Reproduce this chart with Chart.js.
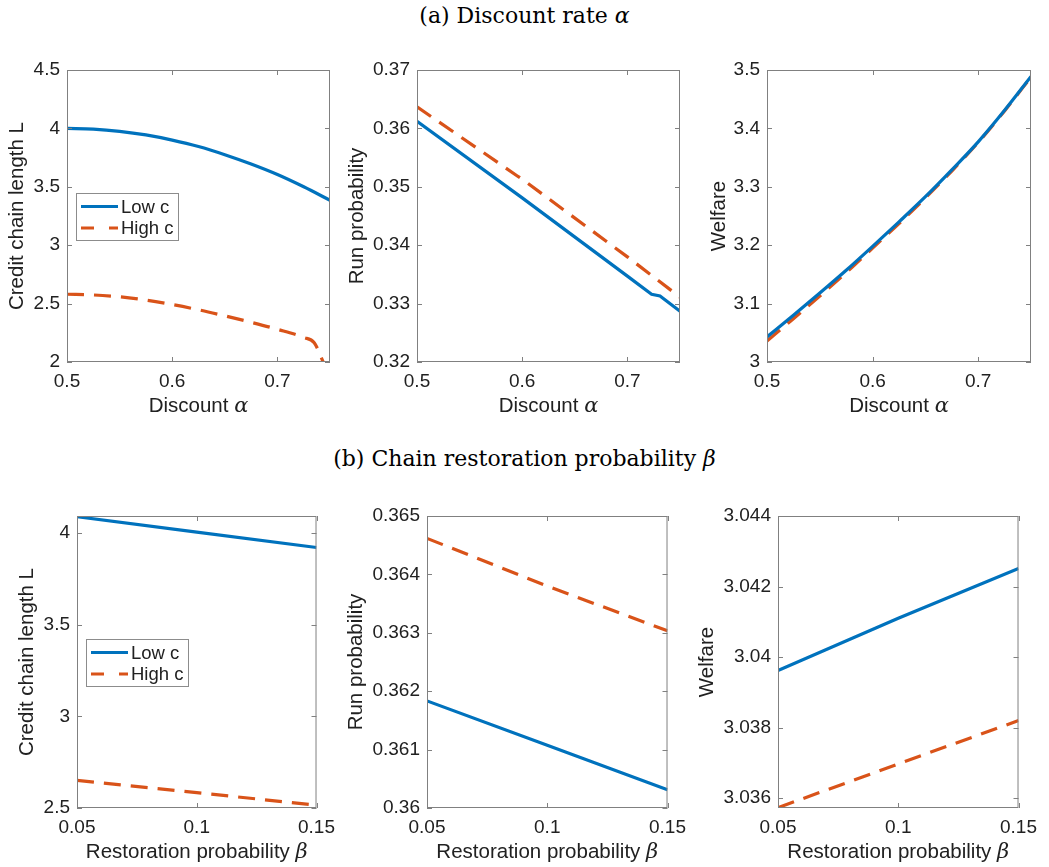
<!DOCTYPE html>
<html>
<head>
<meta charset="utf-8">
<script src="https://cdn.jsdelivr.net/npm/chart.js@4.4.1/dist/chart.umd.min.js"></script>
<style>
  body { margin: 0; background: #fff; width: 1049px; height: 867px; overflow: hidden; position: relative; }
  canvas { position: absolute; }
  .ptitle { position: absolute; left: 0; width: 1049px; text-align: center; font-family: "DejaVu Serif"; font-size: 22px; line-height: 22px; color: #000; }
</style>
</head>
<body>
<div class="ptitle" style="top:5px">(a) Discount rate <i>α</i></div>
<div class="ptitle" style="top:448px">(b) Chain restoration probability <i>β</i></div>
<canvas id="c1"></canvas>
<canvas id="c2"></canvas>
<canvas id="c3"></canvas>
<canvas id="c4"></canvas>
<canvas id="c5"></canvas>
<canvas id="c6"></canvas>
<script>
const seriesNames = ['Low c', 'High c'];

// (a) discount rate alpha
const alphaGrid = [0.5, 0.525, 0.55, 0.575, 0.6, 0.625, 0.65, 0.675, 0.7, 0.725, 0.75];
const lengthLowA = [4.00, 3.994, 3.975, 3.944, 3.90, 3.845, 3.775, 3.695, 3.605, 3.50, 3.385];
const alphaLenHigh = [0.5, 0.525, 0.55, 0.575, 0.6, 0.625, 0.65, 0.675, 0.7, 0.725, 0.735, 0.7435, 0.75];
const lengthHighA = [2.58, 2.574, 2.558, 2.53, 2.492, 2.447, 2.395, 2.34, 2.28, 2.21, 2.165, 2.0, 1.86];
const alphaRunLow = [0.5, 0.6, 0.7, 0.723, 0.731, 0.75];
const runLowA = [0.3612, 0.3481, 0.3347, 0.3316, 0.3313, 0.3287];
const alphaRunHigh = [0.5, 0.595, 0.6, 0.7, 0.75];
const runHighA = [0.3637, 0.3519, 0.3513, 0.3380, 0.3311];
const welfareLowA = [3.043, 3.080, 3.118, 3.157, 3.198, 3.240, 3.283, 3.329, 3.377, 3.431, 3.489];
const welfareHighA = [3.036, 3.074, 3.113, 3.153, 3.195, 3.237, 3.281, 3.327, 3.376, 3.430, 3.488];

// (b) restoration probability beta
const betaGrid = [0.05, 0.1, 0.15];
const lengthLowB = [4.09, 4.006, 3.922];
const lengthHighB = [2.651, 2.584, 2.515];
const runLowB = [0.361834, 0.361074, 0.360314];
const runHighB = [0.364617, 0.3638, 0.363034];
const welfareLowB = [3.03962, 3.0411, 3.04251];
const welfareHighB = [3.03573, 3.03697, 3.0382];

// tick labels
const alphaTicks = [0.5, 0.6, 0.7];
const betaTicks = [0.05, 0.1, 0.15];
const lengthTicksA = [2, 2.5, 3, 3.5, 4, 4.5];
const runTicksA = [0.32, 0.33, 0.34, 0.35, 0.36, 0.37];
const welfareTicksA = [3, 3.1, 3.2, 3.3, 3.4, 3.5];
const lengthTicksB = [2.5, 3, 3.5, 4];
const runTicksB = [0.36, 0.361, 0.362, 0.363, 0.364, 0.365];
const welfareTicksB = [3.036, 3.038, 3.04, 3.042, 3.044];

const BLUE = '#0072BD';
const ORANGE = '#D95319';
const TEXT = '#212121';
const AXIS_COLOR = '#808080';
const SANS = '"Liberation Sans", Arial, sans-serif';
const AXIS_W = 90, AXIS_H = 70, PAD_T = 20, PAD_R = 18;
const LINE_W = 3.2, DASH = [17, 10];

function pts(xs, ys) {
    return xs.map((x, i) => ({ x: x, y: ys[i] }));
}

// box, inward ticks, west legend and x label with a math symbol
const matlabAxes = {
    id: 'matlabAxes',
    afterDraw(chart, args, opts) {
        const { ctx, chartArea: a, scales: { x, y } } = chart;
        ctx.save();
        ctx.strokeStyle = AXIS_COLOR;
        ctx.lineWidth = 1;
        ctx.strokeRect(a.left + 0.5, a.top + 0.5, a.right - a.left - 1, a.bottom - a.top - 1);
        const tl = 5;
        ctx.beginPath();
        x.ticks.forEach(t => {
            const px = Math.round(x.getPixelForValue(t.value)) + 0.5;
            ctx.moveTo(px, a.bottom); ctx.lineTo(px, a.bottom - tl);
            ctx.moveTo(px, a.top); ctx.lineTo(px, a.top + tl);
        });
        y.ticks.forEach(t => {
            const py = Math.round(y.getPixelForValue(t.value)) + 0.5;
            ctx.moveTo(a.left, py); ctx.lineTo(a.left + tl, py);
            ctx.moveTo(a.right, py); ctx.lineTo(a.right - tl, py);
        });
        ctx.stroke();

        // x label: sans text + italic symbol
        const base = a.bottom + 50;
        const sansFont = '20.5px ' + SANS;
        const mathFont = 'italic 21px "DejaVu Serif"';
        ctx.font = sansFont;
        const w1 = ctx.measureText(opts.xLabel[0]).width;
        ctx.font = mathFont;
        const w2 = ctx.measureText(opts.xLabel[1]).width;
        let sx = (a.left + a.right) / 2 - (w1 + w2) / 2;
        ctx.fillStyle = TEXT;
        ctx.textBaseline = 'alphabetic';
        ctx.textAlign = 'left';
        ctx.font = sansFont;
        ctx.fillText(opts.xLabel[0], sx, base);
        ctx.font = mathFont;
        ctx.fillText(opts.xLabel[1], sx + w1, base);

        if (opts.legend) {
            const bw = 102, bh = 47;
            const bl = a.left + 9;
            const bt = Math.round((a.top + a.bottom) / 2 - bh / 2);
            ctx.fillStyle = '#fff';
            ctx.fillRect(bl, bt, bw, bh);
            ctx.strokeStyle = '#8c8c8c';
            ctx.lineWidth = 1;
            ctx.strokeRect(bl + 0.5, bt + 0.5, bw, bh);
            ctx.font = '18.5px ' + SANS;
            ctx.textBaseline = 'middle';
            chart.data.datasets.forEach((ds, i) => {
                const ry = bt + 13.5 + i * 21.5;
                ctx.strokeStyle = ds.borderColor;
                ctx.lineWidth = LINE_W;
                ctx.setLineDash(ds.borderDash ? [13, 15] : []);
                ctx.beginPath();
                ctx.moveTo(bl + 5, ry); ctx.lineTo(bl + 42, ry);
                ctx.stroke();
                ctx.setLineDash([]);
                ctx.fillStyle = TEXT;
                ctx.fillText(ds.label, bl + 45, ry + 1);
            });
        }
        ctx.restore();
    }
};

const panels = [
    { id: 'c1', box: [67, 70, 330, 362], xRange: [0.5, 0.75], xTicks: alphaTicks, xLabel: ['Discount ', 'α'],
      yRange: [2, 4.5], yTicks: lengthTicksA, yLabel: 'Credit chain length L', yGap: 49.7, legend: true,
      low: pts(alphaGrid, lengthLowA), high: pts(alphaLenHigh, lengthHighA), smooth: true, clipHigh: 0 },
    { id: 'c2', box: [417, 70, 680, 362], xRange: [0.5, 0.75], xTicks: alphaTicks, xLabel: ['Discount ', 'α'],
      yRange: [0.32, 0.37], yTicks: runTicksA, yLabel: 'Run probability', yGap: 59.7, legend: false,
      low: pts(alphaRunLow, runLowA), high: pts(alphaRunHigh, runHighA), smooth: false },
    { id: 'c3', box: [767, 70, 1031, 362], xRange: [0.5, 0.75], xTicks: alphaTicks, xLabel: ['Discount ', 'α'],
      yRange: [3, 3.5], yTicks: welfareTicksA, yLabel: 'Welfare', yGap: 47.7, legend: false,
      low: pts(alphaGrid, welfareLowA), high: pts(alphaGrid, welfareHighA), smooth: true },
    { id: 'c4', box: [77, 516, 325, 808], xRange: [0.05, 0.15], xTicks: betaTicks, xLabel: ['Restoration probability ', 'β'],
      yRange: [2.5, 4.094], yTicks: lengthTicksB, yLabel: 'Credit chain length L', yGap: 49.7, legend: true,
      low: pts(betaGrid, lengthLowB), high: pts(betaGrid, lengthHighB), smooth: false },
    { id: 'c5', box: [427, 516, 676, 808], xRange: [0.05, 0.15], xTicks: betaTicks, xLabel: ['Restoration probability ', 'β'],
      yRange: [0.36, 0.365], yTicks: runTicksB, yLabel: 'Run probability', yGap: 70.7, legend: false,
      low: pts(betaGrid, runLowB), high: pts(betaGrid, runHighB), smooth: false },
    { id: 'c6', box: [778, 516, 1027, 808], xRange: [0.05, 0.15], xTicks: betaTicks, xLabel: ['Restoration probability ', 'β'],
      yRange: [3.03572, 3.044], yTicks: welfareTicksB, yLabel: 'Welfare', yGap: 70.7, legend: false,
      low: pts(betaGrid, welfareLowB), high: pts(betaGrid, welfareHighB), smooth: false }
];

function makePanel(p) {
    const [L, T, R, B] = p.box;
    const cv = document.getElementById(p.id);
    cv.width = R - L + AXIS_W + PAD_R;
    cv.height = B - T + PAD_T + AXIS_H;
    cv.style.left = (L - AXIS_W) + 'px';
    cv.style.top = (T - PAD_T) + 'px';

    const lowSet = {
        label: seriesNames[0], data: p.low, borderColor: BLUE, borderWidth: LINE_W, pointRadius: 0,
        tension: 0, cubicInterpolationMode: p.smooth ? 'monotone' : 'default', fill: false
    };
    const highSet = {
        label: seriesNames[1], data: p.high, borderColor: ORANGE, borderWidth: LINE_W, borderDash: DASH, pointRadius: 0,
        tension: 0, cubicInterpolationMode: p.smooth ? 'monotone' : 'default', fill: false
    };
    if (p.clipHigh !== undefined) highSet.clip = p.clipHigh;

    new Chart(cv, {
        type: 'line',
        data: { datasets: [lowSet, highSet] },
        options: {
            responsive: false,
            animation: false,
            devicePixelRatio: 1,
            layout: { padding: { top: PAD_T, right: PAD_R, left: 0, bottom: 0 } },
            plugins: {
                legend: { display: false },
                tooltip: { enabled: false },
                matlabAxes: { legend: p.legend, xLabel: p.xLabel }
            },
            scales: {
                x: {
                    type: 'linear', min: p.xRange[0], max: p.xRange[1],
                    afterBuildTicks: s => { s.ticks = p.xTicks.map(v => ({ value: v })); },
                    afterFit: s => { s.height = AXIS_H; },
                    grid: { display: false, drawTicks: false },
                    border: { display: false },
                    ticks: { color: TEXT, font: { family: SANS, size: 19 }, padding: 8, maxRotation: 0, autoSkip: false, callback: v => String(v) }
                },
                y: {
                    type: 'linear', min: p.yRange[0], max: p.yRange[1],
                    afterBuildTicks: s => { s.ticks = p.yTicks.map(v => ({ value: v })); },
                    afterFit: s => { s.width = AXIS_W; },
                    grid: { display: false, drawTicks: false },
                    border: { display: false },
                    ticks: { color: TEXT, font: { family: SANS, size: 19 }, padding: 7, autoSkip: false, callback: v => String(v) },
                    title: {
                        display: true, text: p.yLabel, color: TEXT,
                        font: { family: SANS, size: 20.5 },
                        padding: { top: AXIS_W - p.yGap - 12, bottom: 0 }
                    }
                }
            }
        },
        plugins: [matlabAxes]
    });
}

panels.forEach(makePanel);
</script>
</body>
</html>
